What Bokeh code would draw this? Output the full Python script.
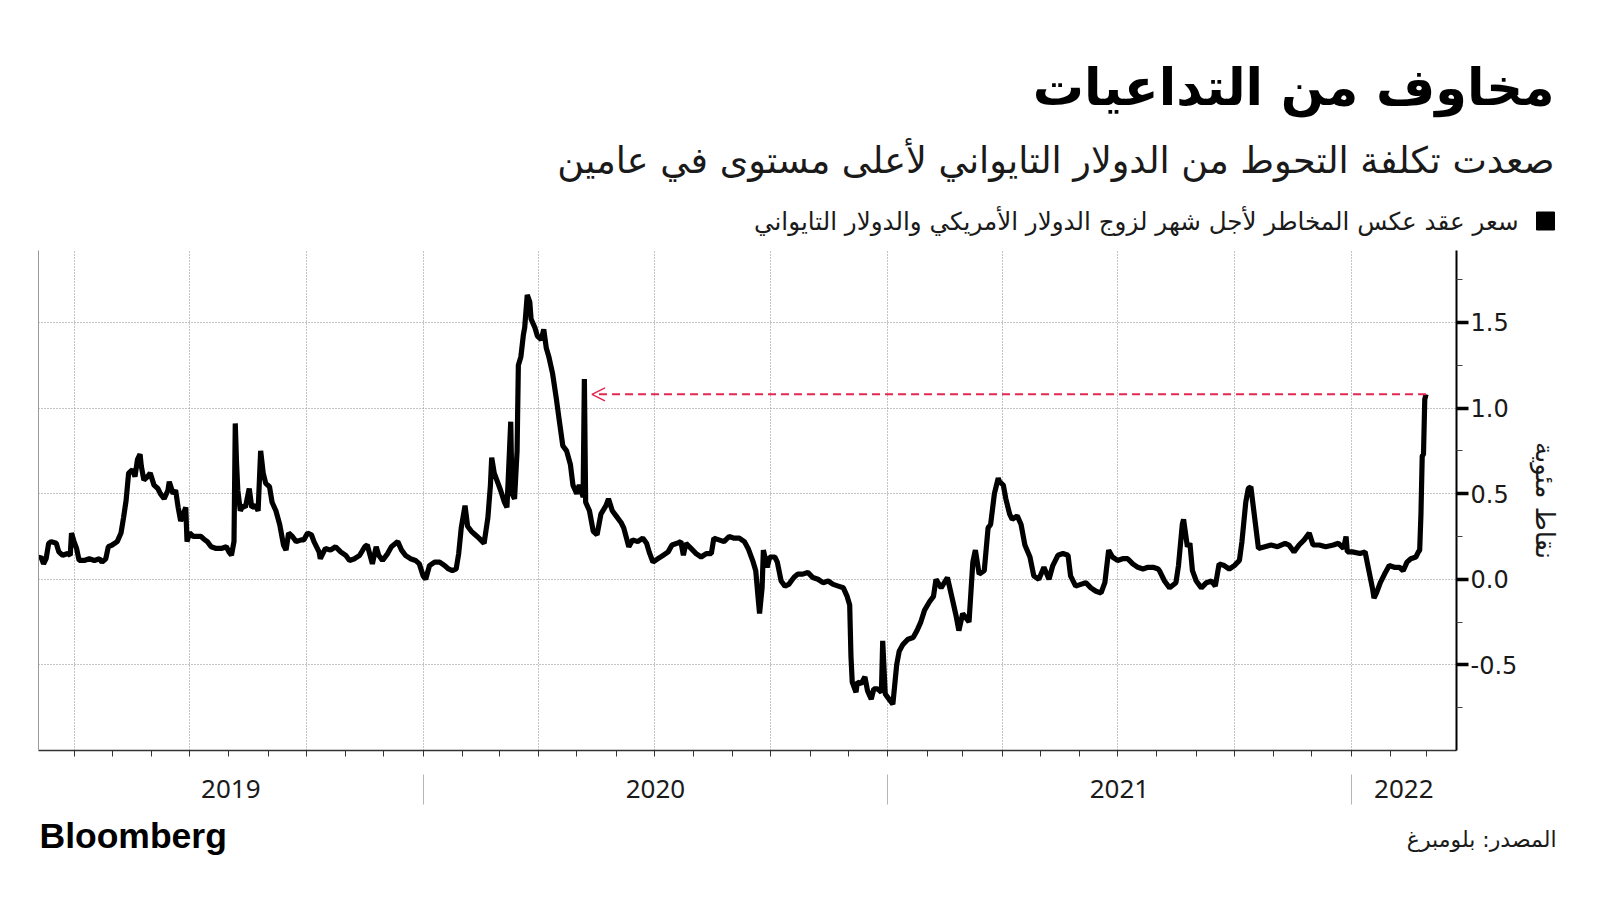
import pandas as pd
from bokeh.plotting import figure
from bokeh.layouts import column
from bokeh.models import ColumnDataSource, Range1d, FixedTicker, LinearAxis, Arrow, OpenHead
from bokeh.core.properties import value
from bokeh.embed import file_html
from bokeh.resources import INLINE

# ---------------- texts ----------------
title_text = "مخاوف من التداعيات"
subtitle_text = "صعدت تكلفة التحوط من الدولار التايواني لأعلى مستوى في عامين"
legend_text = "سعر عقد عكس المخاطر لأجل شهر لزوج الدولار الأمريكي والدولار التايواني"
y_axis_title = "نقاط مئوية"
source_text = "المصدر: بلومبرغ"
brand_text = "Bloomberg"

# ---------------- data ----------------
start_date = "2019-03-04"      # first observation
axis_end_date = "2022-03-25"   # right end of the time axis

days_2019 = [0, 2, 4, 6, 8, 10, 14, 16, 19, 23, 25, 26, 28, 30, 32, 36, 40, 44, 48, 50,
             53, 55, 58, 62, 65, 67, 69, 71, 74, 76, 78, 80, 81, 83, 86, 88, 91, 94, 96, 99,
             102, 103, 106, 108, 110, 112, 114, 116, 117, 119, 122, 125, 128, 131, 133, 136, 140, 144, 148, 150,
             152, 154, 155, 156, 157, 159, 161, 163, 166, 168, 171, 173, 175, 177, 179, 182, 184, 187, 190, 193,
             195, 197, 200, 203, 207, 209, 212, 215, 217, 221]
vals_2019 = [0.12, 0.13, 0.09, 0.12, 0.21, 0.22, 0.21, 0.16, 0.14, 0.15, 0.14, 0.27, 0.22, 0.18, 0.11, 0.11, 0.12, 0.11, 0.12, 0.10,
             0.12, 0.19, 0.20, 0.22, 0.27, 0.36, 0.46, 0.62, 0.64, 0.60, 0.70, 0.73, 0.66, 0.58, 0.60, 0.62, 0.55, 0.53, 0.50, 0.47,
             0.52, 0.57, 0.50, 0.52, 0.42, 0.34, 0.38, 0.42, 0.22, 0.27, 0.25, 0.25, 0.25, 0.23, 0.22, 0.19, 0.18, 0.18, 0.19, 0.16,
             0.14, 0.22, 0.91, 0.68, 0.52, 0.40, 0.43, 0.42, 0.53, 0.42, 0.43, 0.40, 0.75, 0.62, 0.56, 0.54, 0.45, 0.40, 0.32, 0.20,
             0.17, 0.27, 0.25, 0.22, 0.23, 0.23, 0.27, 0.26, 0.22, 0.16]

days_2020a = [222, 226, 230, 234, 238, 242, 245, 249, 253, 257, 259, 263, 266, 268, 271, 275, 278, 283, 286, 289,
              293, 297, 300, 303, 305, 308, 312, 316, 320, 323, 326, 329, 331, 333, 336, 338, 341, 344, 347, 351,
              354, 356, 357, 359, 362, 364, 367, 369, 370, 372, 373, 375, 377, 378, 380, 382, 383, 385, 387, 388,
              391, 393, 396, 398, 400, 402, 405, 408, 410, 413, 416, 419, 421, 424, 426, 429, 430, 431, 434, 437,
              440]
vals_2020a = [0.12, 0.18, 0.17, 0.19, 0.16, 0.14, 0.11, 0.12, 0.14, 0.19, 0.20, 0.09, 0.19, 0.14, 0.11, 0.15, 0.19, 0.22, 0.17, 0.14,
              0.12, 0.11, 0.09, 0.02, 0.00, 0.08, 0.10, 0.10, 0.08, 0.06, 0.05, 0.06, 0.15, 0.30, 0.43, 0.31, 0.28, 0.26, 0.24, 0.21,
              0.36, 0.55, 0.71, 0.62, 0.56, 0.52, 0.45, 0.42, 0.58, 0.92, 0.50, 0.47, 0.75, 1.25, 1.30, 1.43, 1.47, 1.66, 1.62, 1.52,
              1.47, 1.42, 1.40, 1.46, 1.35, 1.30, 1.20, 1.05, 0.94, 0.78, 0.75, 0.67, 0.55, 0.50, 0.55, 0.48, 1.17, 0.45, 0.40, 0.28,
              0.26]

days_2020b = [443, 447, 449, 452, 455, 459, 461, 465, 468, 472, 476, 479, 481, 484, 488, 492, 496, 499, 503, 506,
              508, 510, 514, 518, 522, 526, 530, 532, 536, 540, 544, 548, 552, 556, 559, 563, 565, 567, 568, 570,
              571, 574, 576, 580, 582, 585, 588, 591, 595, 598, 602, 606, 610, 614, 618, 622, 626, 630, 634, 637,
              639, 640, 641, 644, 645, 648, 651, 653, 656, 658]
vals_2020b = [0.38, 0.43, 0.47, 0.40, 0.37, 0.33, 0.30, 0.19, 0.23, 0.22, 0.24, 0.21, 0.16, 0.10, 0.12, 0.14, 0.16, 0.20, 0.21, 0.22,
              0.14, 0.21, 0.18, 0.15, 0.13, 0.15, 0.15, 0.24, 0.23, 0.22, 0.25, 0.24, 0.24, 0.22, 0.18, 0.10, 0.05, -0.12, -0.20, -0.05,
              0.17, 0.07, 0.13, 0.13, 0.10, -0.01, -0.04, -0.03, 0.01, 0.03, 0.03, 0.04, 0.01, 0.00, -0.02, -0.01, -0.03, -0.04, -0.05, -0.10,
              -0.15, -0.45, -0.60, -0.66, -0.60, -0.61, -0.57, -0.65, -0.70, -0.64]

days_2021a = [661, 664, 665, 667, 670, 673, 676, 678, 681, 685, 689, 692, 695, 698, 702, 705, 707, 711, 716, 720,
              723, 725, 728, 733, 736, 738, 741, 745, 748, 750, 753, 756, 757, 760, 762, 765, 767, 771, 774, 777,
              781, 784, 788, 792, 796, 799, 803, 807, 811, 813, 817, 821, 825, 829, 833, 837, 840, 843, 846, 850,
              854, 858, 862, 866, 870, 874, 878, 882]
vals_2021a = [-0.64, -0.66, -0.36, -0.67, -0.70, -0.73, -0.50, -0.42, -0.38, -0.35, -0.34, -0.30, -0.25, -0.18, -0.13, -0.10, 0.00, -0.05, 0.01, -0.12,
              -0.22, -0.30, -0.20, -0.25, 0.10, 0.17, 0.03, 0.05, 0.30, 0.32, 0.50, 0.59, 0.57, 0.55, 0.47, 0.38, 0.35, 0.37, 0.32, 0.20,
              0.13, 0.02, 0.00, 0.07, 0.00, 0.08, 0.14, 0.15, 0.14, 0.02, -0.04, -0.03, -0.02, -0.05, -0.07, -0.08, -0.02, 0.17, 0.13, 0.11,
              0.12, 0.12, 0.09, 0.07, 0.06, 0.07, 0.07, 0.06]

days_2021b = [883, 887, 891, 896, 898, 901, 902, 905, 907, 909, 912, 916, 920, 924, 927, 930, 934, 938, 942, 946,
              948, 951, 953, 955, 957, 959, 961, 966, 971, 976, 982, 985, 989, 993, 997, 1001, 1004, 1009, 1014, 1020,
              1024, 1028, 1030, 1031, 1035, 1041, 1045, 1048, 1051, 1052, 1054, 1057, 1061, 1064, 1068, 1072, 1075, 1078, 1081, 1085,
              1087, 1088, 1089, 1090, 1091, 1092, 1093]
vals_2021b = [0.05, -0.01, -0.05, -0.02, 0.08, 0.32, 0.35, 0.19, 0.21, 0.05, -0.01, -0.05, -0.02, -0.01, -0.04, 0.09, 0.08, 0.06, 0.08, 0.11,
              0.22, 0.45, 0.53, 0.54, 0.42, 0.30, 0.18, 0.19, 0.20, 0.19, 0.21, 0.20, 0.16, 0.20, 0.23, 0.27, 0.20, 0.20, 0.19, 0.20,
              0.21, 0.18, 0.25, 0.16, 0.16, 0.15, 0.16, 0.05, -0.06, -0.11, -0.08, -0.02, 0.04, 0.08, 0.07, 0.07, 0.05, 0.10, 0.12, 0.13,
              0.16, 0.17, 0.38, 0.72, 0.73, 1.05, 1.08]

arrow_tip_day = 436            # the earlier level the current value is compared with

year_labels = ["2019", "2020", "2021", "2022"]
y_ticks = [-0.5, 0.0, 0.5, 1.0, 1.5]
y_tick_labels = ["-0.5", "0.0", "0.5", "1.0", "1.5"]
y_minor_ticks = [-0.75, -0.25, 0.25, 0.75, 1.25, 1.75]
y_min, y_max = -1.0, 1.92

# ---------------- assemble ----------------
days_since_start = days_2019 + days_2020a + days_2020b + days_2021a + days_2021b
risk_reversal = vals_2019 + vals_2020a + vals_2020b + vals_2021a + vals_2021b
assert len(days_since_start) == len(risk_reversal), (len(days_since_start), len(risk_reversal))

t0 = pd.Timestamp(start_date)
t_end = pd.Timestamp(axis_end_date)
dates = t0 + pd.to_timedelta(days_since_start, unit="D")
src = ColumnDataSource(dict(date=dates, value=risk_reversal))


def ms(t):
    return float(pd.Timestamp(t).value // 10**6)


month_ticks = [ms(d) for d in pd.date_range("2019-04-01", t_end, freq="MS")]
quarter_ticks = [ms(d) for d in pd.date_range("2019-04-01", t_end, freq="QS")]
year_starts = [pd.Timestamp(f"{y}-01-01") for y in year_labels[1:]]
year_bounds = [t0] + year_starts + [t_end]
year_mid = [(ms(a) + ms(b)) / 2 for a, b in zip(year_bounds[:-1], year_bounds[1:])]

AR = "DejaVu Sans"
RED = "#e2294f"
W = 1590

# ---------------- header ----------------
HH = 240
header = figure(width=W, height=HH, x_range=Range1d(0, W), y_range=Range1d(HH, 0),
                x_axis_type=None, y_axis_type=None, min_border=0, outline_line_color=None,
                toolbar_location=None, output_backend="svg", frame_align=False)
header.text(x=[1554], y=[87], text=[title_text], text_font=value(AR), text_font_style="bold",
            text_font_size="51px", text_align="right", text_baseline="middle", text_color="#000000")
header.text(x=[1554], y=[160], text=[subtitle_text], text_font=value(AR), text_font_style="normal",
            text_font_size="36.5px", text_align="right", text_baseline="middle", text_color="#1a1a1a")
header.text(x=[1518], y=[221], text=[legend_text], text_font=value(AR), text_font_style="normal",
            text_font_size="24.6px", text_align="right", text_baseline="middle", text_color="#1a1a1a")
header.scatter(x=[1545], y=[220.5], marker="square", size=18, color="black", line_color="black")

# ---------------- main chart ----------------
p = figure(x_axis_type="datetime", y_axis_location="right",
           frame_width=1418, frame_height=500,
           min_border_left=38, min_border_right=136, min_border_top=10, min_border_bottom=62,
           x_range=Range1d(t0, t_end), y_range=Range1d(y_min, y_max),
           toolbar_location=None, output_backend="svg", outline_line_color=None,
           frame_align=False)

p.xgrid.ticker = FixedTicker(ticks=quarter_ticks)
p.ygrid.ticker = FixedTicker(ticks=y_ticks)
p.xgrid.grid_line_color = "#8a8a8a"
p.ygrid.grid_line_color = "#8a8a8a"
p.xgrid.grid_line_dash = "1 2"
p.ygrid.grid_line_dash = "1 2"
p.xgrid.grid_line_width = 1
p.ygrid.grid_line_width = 1

p.line("date", "value", source=src, line_color="black", line_width=5.2, line_join="bevel")

p.add_layout(Arrow(end=OpenHead(size=13, line_color=RED, line_width=1.5),
                   x_start=ms(dates[-1]), y_start=risk_reversal[-1],
                   x_end=ms(t0 + pd.Timedelta(days=arrow_tip_day)), y_end=risk_reversal[-1],
                   line_color=RED, line_width=2, line_dash="8 5"))

# right value axis
ya = p.yaxis[0]
ya.ticker = FixedTicker(ticks=y_ticks, minor_ticks=y_minor_ticks)
ya.major_label_overrides = dict(zip(y_ticks, y_tick_labels))
ya.axis_line_color = "black"
ya.axis_line_width = 2
ya.major_tick_in = 0
ya.major_tick_out = 12
ya.major_tick_line_width = 3.5
ya.major_tick_line_color = "black"
ya.minor_tick_in = 0
ya.minor_tick_out = 6
ya.minor_tick_line_color = "#444444"
ya.major_label_standoff = 2
ya.major_label_text_font = AR
ya.major_label_text_font_size = "24px"
ya.major_label_text_color = "#1a1a1a"
ya.axis_label = y_axis_title
ya.axis_label_text_font = AR
ya.axis_label_text_font_style = "normal"
ya.axis_label_text_font_size = "26px"
ya.axis_label_text_color = "#1a1a1a"
ya.axis_label_standoff = 10

# left frame line
left_axis = LinearAxis(ticker=FixedTicker(ticks=[]), axis_line_color="#9a9a9a", axis_line_width=1,
                       major_tick_line_color=None, minor_tick_line_color=None,
                       major_label_text_font_size="0px")
p.add_layout(left_axis, "left")

# bottom time axis: monthly ticks + year labels
xa = p.xaxis[0]
xa.ticker = FixedTicker(ticks=year_mid, minor_ticks=month_ticks)
xa.major_label_overrides = dict(zip(year_mid, year_labels))
xa.axis_line_color = "#333333"
xa.axis_line_width = 1.5
xa.major_tick_in = 0
xa.major_tick_out = 0
xa.minor_tick_in = 0
xa.minor_tick_out = 6
xa.minor_tick_line_color = "#333333"
xa.major_label_standoff = 23
xa.major_label_text_font = "Noto Sans"
xa.major_label_text_font_size = "26px"
xa.major_label_text_color = "#1a1a1a"

# year separators
sep_ticks = [ms(d) for d in year_starts]
sep_axis = LinearAxis(ticker=FixedTicker(ticks=sep_ticks), axis_line_color=None,
                      major_label_overrides={t: "" for t in sep_ticks},
                      major_label_text_font_size="1px",
                      major_tick_line_color="#b5b5b5", major_tick_line_width=1,
                      major_tick_in=26, major_tick_out=4, minor_tick_line_color=None)
p.add_layout(sep_axis, "below")

# ---------------- footer ----------------
FH = 60
footer = figure(width=W, height=FH, x_range=Range1d(0, W), y_range=Range1d(FH, 0),
                x_axis_type=None, y_axis_type=None, min_border=0, outline_line_color=None,
                toolbar_location=None, output_backend="svg", frame_align=False)
footer.text(x=[39], y=[23], text=[brand_text], text_font=value("Liberation Sans"), text_font_style="bold",
            text_font_size="35.5px", text_align="left", text_baseline="middle", text_color="#000000")
footer.text(x=[1556], y=[27], text=[source_text], text_font=value(AR), text_font_style="normal",
            text_font_size="22px", text_align="right", text_baseline="middle", text_color="#1a1a1a")

layout = column(header, p, footer)
open("out.html", "w").write(file_html(layout, INLINE))
